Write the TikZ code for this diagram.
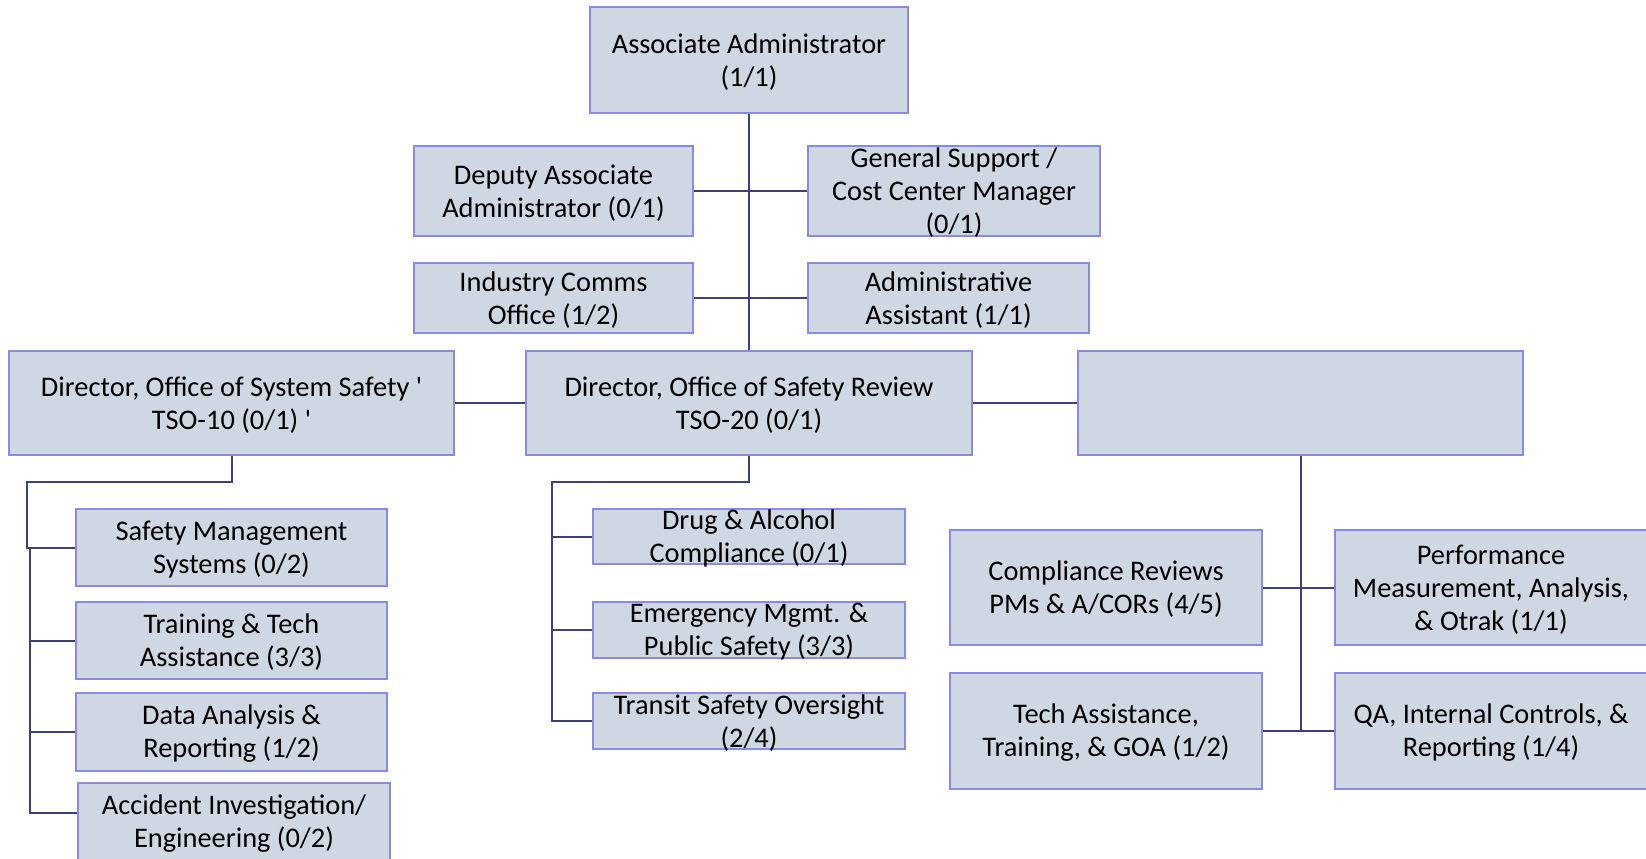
\documentclass[tikz,border=0pt]{standalone}
\usepackage{fontspec}
\setmainfont[Ligatures=TeXOff]{Carlito}
\definecolor{boxfill}{RGB}{207,216,226}
\definecolor{boxdraw}{RGB}{138,138,228}
\definecolor{linkcol}{RGB}{64,64,120}
\begin{document}
\begin{tikzpicture}[x=0.5pt,y=-0.5pt,
  box/.style 2 args={draw=boxdraw, fill=boxfill, line width=1pt, inner sep=0pt,
    minimum width=#1*0.5pt, minimum height=#2*0.5pt},
  lbl/.style={inner sep=0pt, align=center,
    font=\fontsize{14.2pt}{16.5pt}\selectfont, text=black},
  link/.style={draw=linkcol, line width=1pt}]
\useasboundingbox (0,0) rectangle (1646,858);
\fill[white] (0,0) rectangle (1646,858);

% top level
\node[box={318}{106}] (aa)  at (749,60)    {};
\node[box={279}{90}]  (dep) at (553.5,191) {};
\node[box={292}{90}]  (gen) at (954,191)   {};
\node[box={279}{70}]  (ind) at (553.5,298) {};
\node[box={281}{70}]  (adm) at (948.5,298) {};

% directors
\node[box={445}{104}] (dss) at (231.5,403) {};
\node[box={446}{104}] (dsr) at (749,403)   {};
\node[box={445}{104}] (emp) at (1300.5,403) {};

% left column
\node[box={311}{77}] (sms) at (231.5,547.5) {};
\node[box={311}{77}] (trn) at (231.5,640.5) {};
\node[box={311}{78}] (dat) at (231.5,732)   {};
\node[box={312}{77}] (acc) at (234,821.5)   {};

% middle column
\node[box={312}{55}] (drg) at (749,536.5) {};
\node[box={312}{56}] (emg) at (749,630)   {};
\node[box={312}{56}] (trs) at (749,721)   {};

% right group
\node[box={312}{115}] (cmp) at (1106,587.5) {};
\node[box={312}{115}] (prf) at (1491,587.5) {};
\node[box={312}{116}] (tec) at (1106,731)   {};
\node[box={312}{116}] (qa)  at (1491,731)   {};

% texts
\node[lbl] (aa-t)  at ([yshift=-1pt]aa.center)  {Associate Administrator\\(1/1)};
\node[lbl] (dep-t) at ([yshift=-1pt]dep.center) {Deputy Associate\\Administrator (0/1)};
\node[lbl] (gen-t) at ([yshift=-1pt]gen.center) {General Support /\\Cost Center Manager\\(0/1)};
\node[lbl] (ind-t) at ([yshift=-1pt]ind.center) {Industry Comms\\Office (1/2)};
\node[lbl] (adm-t) at ([yshift=-1pt]adm.center) {Administrative\\Assistant (1/1)};
\node[lbl] (dss-t) at ([yshift=-1pt]dss.center) {Director, Office of System Safety '\\TSO-10 (0/1) '};
\node[lbl] (dsr-t) at ([yshift=-1pt]dsr.center) {Director, Office of Safety Review\\TSO-20 (0/1)};
\node[lbl] (sms-t) at ([yshift=-1pt]sms.center) {Safety Management\\Systems (0/2)};
\node[lbl] (trn-t) at ([yshift=-1pt]trn.center) {Training \& Tech\\Assistance (3/3)};
\node[lbl] (dat-t) at ([yshift=-1pt]dat.center) {Data Analysis \&\\Reporting (1/2)};
\node[lbl] (acc-t) at ([yshift=-1pt]acc.center) {Accident Investigation/\\Engineering (0/2)};
\node[lbl] (drg-t) at ([yshift=-1pt]drg.center) {Drug \& Alcohol\\Compliance (0/1)};
\node[lbl] (emg-t) at ([yshift=-1pt]emg.center) {Emergency Mgmt. \&\\Public Safety (3/3)};
\node[lbl] (trs-t) at ([yshift=-1pt]trs.center) {Transit Safety Oversight\\(2/4)};
\node[lbl] (cmp-t) at ([yshift=-1pt]cmp.center) {Compliance Reviews\\PMs \& A/CORs (4/5)};
\node[lbl] (prf-t) at ([yshift=-1pt]prf.center) {Performance\\Measurement, Analysis,\\\& Otrak (1/1)};
\node[lbl] (tec-t) at ([yshift=-1pt]tec.center) {Tech Assistance,\\Training, \& GOA (1/2)};
\node[lbl] (qa-t)  at ([yshift=-1pt]qa.center)  {QA, Internal Controls, \&\\Reporting (1/4)};

% junction coordinates
\coordinate (lA) at (231.5,482);
\coordinate (lB) at (27,482);
\coordinate (lC) at (27,547.5);
\coordinate (lD) at (30,547.5);
\coordinate (lE) at (30,813);
\coordinate (mA) at (749,482);
\coordinate (mB) at (552,482);
\coordinate (mC) at (552,721);
\coordinate (rA) at (1300.5,731);

% connectors
\draw[link] (aa.south) -- (dsr.north);
\draw[link] (dep.east) -- (gen.west);
\draw[link] (ind.east) -- (adm.west);
\draw[link] (dss.east) -- (dsr.west);
\draw[link] (dsr.east) -- (emp.west);

\draw[link] (dss.south) -- (lA) -- (lB) -- (lC) -- (sms.west);
\draw[link] (lD) -- (lE) -- (acc.west |- lE);
\draw[link] (lD |- trn.west) -- (trn.west);
\draw[link] (lD |- dat.west) -- (dat.west);

\draw[link] (dsr.south) -- (mA) -- (mB) -- (mC) -- (trs.west);
\draw[link] (mB |- drg.west) -- (drg.west);
\draw[link] (mB |- emg.west) -- (emg.west);

\draw[link] (emp.south) -- (rA);
\draw[link] (cmp.east) -- (prf.west);
\draw[link] (tec.east) -- (qa.west);
\end{tikzpicture}
\end{document}
